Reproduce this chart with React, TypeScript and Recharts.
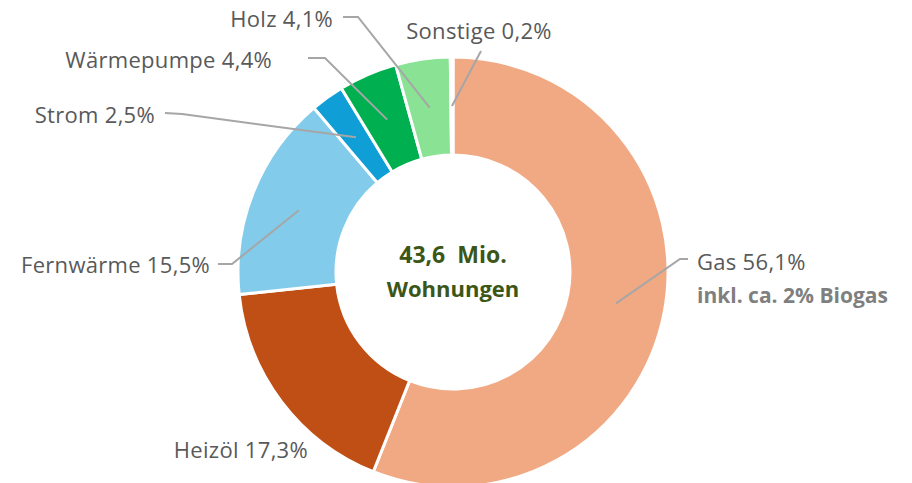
import React from "react";
import { PieChart, Pie, Cell } from "recharts";

const categories = ["Gas", "Heizöl", "Fernwärme", "Strom", "Wärmepumpe", "Holz", "Sonstige"];
const shares = [56.1, 17.3, 15.5, 2.5, 4.4, 4.1, 0.2];
const labelTexts = ["Gas 56,1%", "Heizöl 17,3%", "Fernwärme 15,5%", "Strom 2,5%", "Wärmepumpe 4,4%", "Holz 4,1%", "Sonstige 0,2%"];
const gasNote = "inkl. ca. 2% Biogas";
const centerLines = ["43,6 Mio.", "Wohnungen"];

const COLORS = ["#F1A983", "#C04F15", "#83CBEB", "#0F9ED5", "#00B050", "#8AE394", "#F4F4F4"];

const data = categories.map((name, i) => ({ name, value: shares[i], label: labelTexts[i] }));

// label layout offsets relative to the pie centre
type Layout = { tx: number; ty: number; anchor: "start" | "end" | "middle"; lx?: number; ly?: number; ex?: number; ey?: number; line: boolean };
const LAYOUT: Record<string, Layout> = {
  Gas: { tx: 244, ty: -2, anchor: "start", lx: 235, ly: -13, ex: 227, ey: -13, line: true },
  "Heizöl": { tx: -145, ty: 186, anchor: "end", line: false },
  "Fernwärme": { tx: -243, ty: 1, anchor: "end", lx: -235, ly: -8, ex: -221, ey: -8, line: true },
  Strom: { tx: -298, ty: -149, anchor: "end", lx: -288, ly: -159, ex: -271, ey: -158, line: true },
  "Wärmepumpe": { tx: -181, ty: -204, anchor: "end", lx: -145, ly: -214, ex: -128, ey: -214, line: true },
  Holz: { tx: -120, ty: -245, anchor: "end", lx: -110, ly: -255, ex: -95, ey: -255, line: true },
  Sonstige: { tx: 26, ty: -233, anchor: "middle", lx: 28, ly: -221, ex: 28, ey: -221, line: true },
};

const RAD = Math.PI / 180;
const FONT = "'Open Sans', 'Noto Sans', sans-serif";

const renderLabel = (props: any) => {
  const { cx, cy, midAngle, innerRadius, outerRadius, index } = props;
  const d = data[index];
  const L = LAYOUT[d.name];
  const r = (innerRadius + outerRadius) / 2;
  const px = cx + r * Math.cos(-midAngle * RAD);
  const py = cy + r * Math.sin(-midAngle * RAD);
  return (
    <g key={`lbl-${index}`}>
      {L.line && (
        <polyline
          points={`${px},${py} ${cx + (L.ex as number)},${cy + (L.ey as number)} ${cx + (L.lx as number)},${cy + (L.ly as number)}`}
          fill="none"
          stroke="#A6A6A6"
          strokeWidth={2}
        />
      )}
      <text x={cx + L.tx} y={cy + L.ty} textAnchor={L.anchor} fill="#595959" fontSize={22} letterSpacing={0.3} fontFamily={FONT}>
        {d.label}
      </text>
      {d.name === "Gas" && (
        <text x={cx + L.tx} y={cy + L.ty + 33} textAnchor="start" fill="#7F7F7F" fontSize={21} fontWeight={700} fontFamily={FONT}>
          {gasNote}
        </text>
      )}
    </g>
  );
};

export default function App() {
  const cx = 453;
  const cy = 272;
  return (
    <div style={{ position: "absolute", left: 0, top: 0, width: 912, height: 483, background: "#fff" }}>
      <PieChart width={912} height={483} margin={{ top: 0, right: 0, bottom: 0, left: 0 }}>
        <Pie
          data={data}
          dataKey="value"
          nameKey="name"
          cx={cx}
          cy={cy}
          innerRadius={117}
          outerRadius={215}
          startAngle={90}
          endAngle={-270}
          stroke="#ffffff"
          strokeWidth={3}
          label={renderLabel}
          labelLine={false}
          isAnimationActive={false}
        >
          {data.map((d, i) => (
            <Cell key={d.name} fill={COLORS[i]} />
          ))}
        </Pie>
        <text x={cx} y={cy - 9} textAnchor="middle" fill="#3B5617" fontSize={23} fontWeight={700} wordSpacing={6} fontFamily={FONT}>
          {centerLines[0]}
        </text>
        <text x={cx} y={cy + 25} textAnchor="middle" fill="#3B5617" fontSize={22} fontWeight={700} fontFamily={FONT}>
          {centerLines[1]}
        </text>
      </PieChart>
    </div>
  );
}
